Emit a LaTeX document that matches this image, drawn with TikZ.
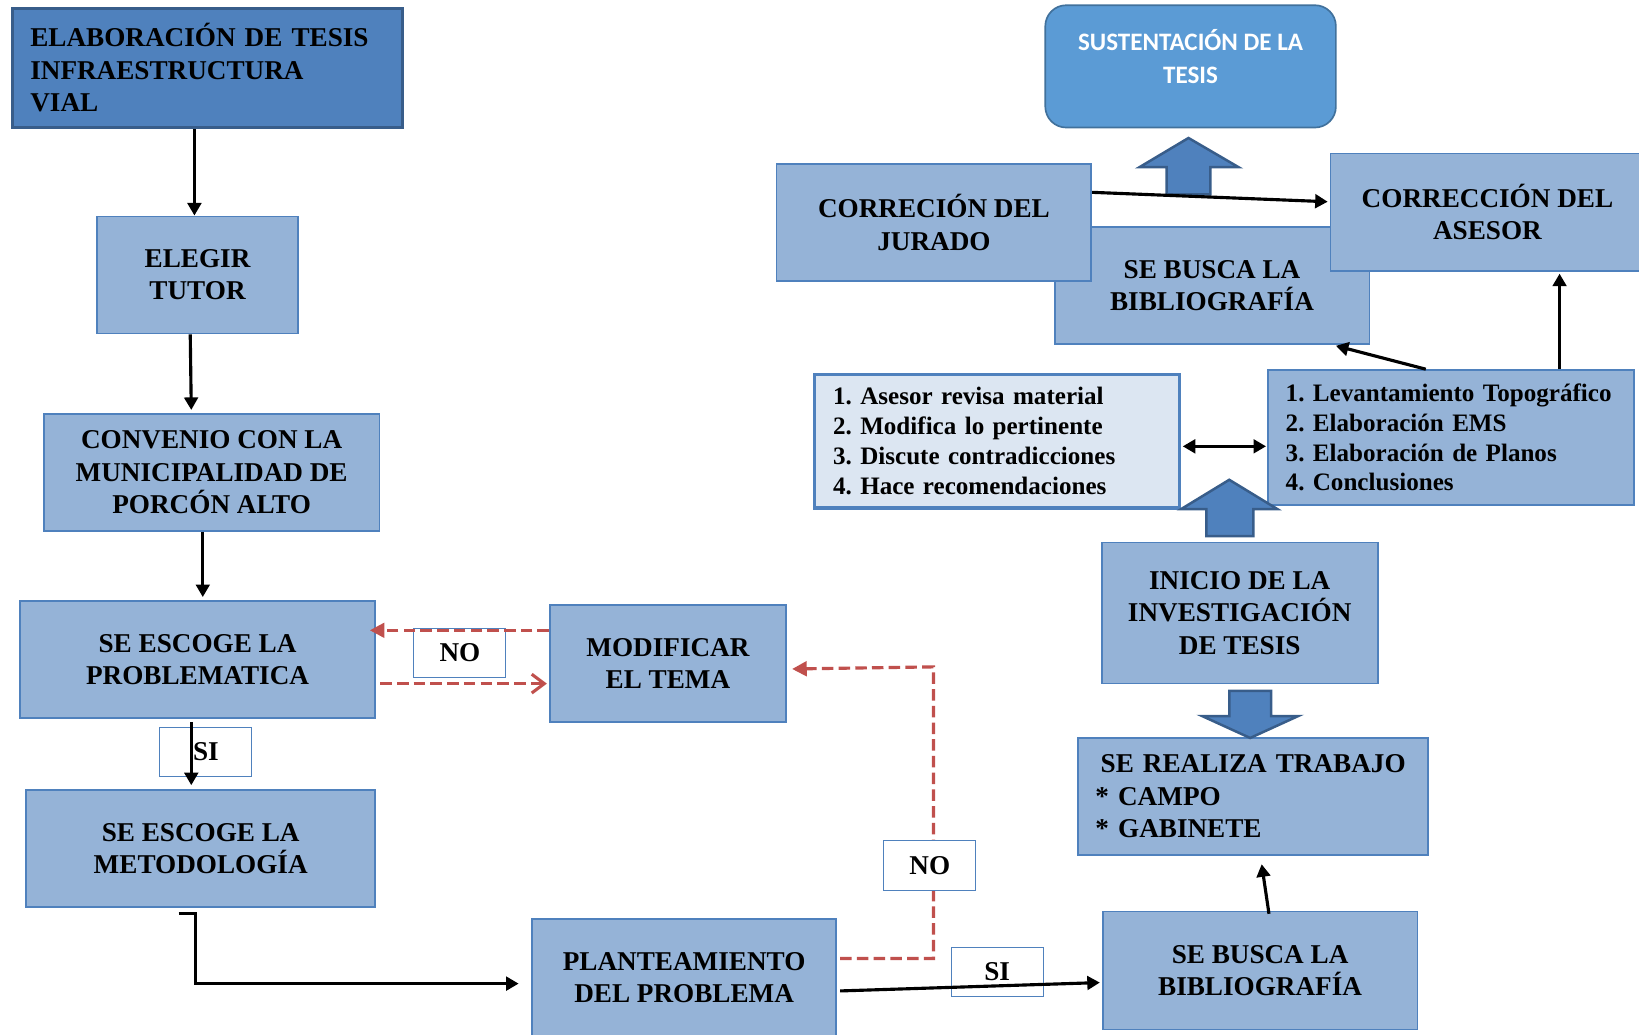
\documentclass[tikz,border=0pt]{standalone}
\usepackage{fontspec}
\setmainfont{Liberation Serif}
\newfontfamily\sustfont{Carlito}
\usetikzlibrary{arrows.meta}
\definecolor{boxblue}{HTML}{95B3D7}
\definecolor{lineblue}{HTML}{4F81BD}
\definecolor{darkblue}{HTML}{385D8A}
\definecolor{paleblue}{HTML}{DCE6F2}
\definecolor{sustblue}{HTML}{5B9BD5}
\definecolor{sustline}{HTML}{41719C}
\definecolor{nored}{HTML}{C0504D}
\frenchspacing
\begin{document}
\begin{tikzpicture}[x=0.5pt,y=-0.5pt]
\tikzstyle{every node}+=[inner sep=0pt, font=\fontsize{13}{15.5}\selectfont\bfseries]
\tikzstyle{flowbox}=[draw=lineblue, line width=0.8pt, fill=boxblue, align=center, minimum height=56pt]
\tikzstyle{listbox}=[flowbox, align=left, inner xsep=8.5pt, font=\fontsize{12}{14.25}\selectfont\bfseries]
\tikzstyle{answer}=[draw=lineblue, line width=0.5pt, fill=white, minimum width=44pt, minimum height=23.5pt]
\tikzstyle{arr}=[line width=1.5pt, -{Triangle[length=6pt,width=6.5pt]}]
\tikzstyle{redarr}=[draw=nored, line width=1.5pt, dash pattern=on 5.5pt off 2.5pt, -{Triangle[length=7pt,width=7pt]}]
\tikzstyle{bigarrow}=[fill=lineblue, draw=darkblue, line width=1.2pt]
\useasboundingbox (0,0) rectangle (1568,990);
\node[flowbox, fill=lineblue, draw=darkblue, line width=1.5pt, align=left, text width=169.5pt, inner xsep=8.5pt, minimum height=57pt] (elab) at (198.5,65) {ELABORACIÓN DE TESIS\\INFRAESTRUCTURA\\VIAL};
\node[flowbox, minimum width=96pt] (tutor) at (189,263) {ELEGIR\\TUTOR};
\node[flowbox, minimum width=160.5pt] (convenio) at (202.5,452) {CONVENIO CON LA\\MUNICIPALIDAD DE\\PORCÓN ALTO};
\node[flowbox, minimum width=170pt] (probl) at (189,631) {SE ESCOGE LA\\PROBLEMATICA};
\node[flowbox, minimum width=167pt] (metod) at (192,812) {SE ESCOGE LA\\METODOLOGÍA};
\node[flowbox, minimum width=113pt] (modif) at (639,635) {MODIFICAR\\EL TEMA};
\node[flowbox, minimum width=145.5pt] (plant) at (654.5,935) {PLANTEAMIENTO\\DEL PROBLEMA};
\node[flowbox, minimum width=150.5pt, minimum height=56.5pt] (buscab) at (1205.5,928.5) {SE BUSCA LA\\BIBLIOGRAFÍA};
\node[flowbox, align=left, text width=150.5pt, inner xsep=8.5pt] (realiza) at (1198.5,762) {\hspace*{2.5pt}SE REALIZA TRABAJO\\{*} CAMPO\\{*} GABINETE};
\node[flowbox, minimum width=132pt, minimum height=67.5pt] (inicio) at (1186,586.5) {INICIO DE LA\\INVESTIGACIÓN\\DE TESIS};
\node[listbox, fill=paleblue, line width=1.5pt, text width=156.5pt, inner xsep=9pt, minimum height=64pt] (leftlist) at (953.5,422) {1. Asesor revisa material\\2. Modifica lo pertinente\\3. Discute contradicciones\\4. Hace recomendaciones};
\node[listbox, text width=158pt, minimum height=64.5pt] (rightlist) at (1388,418.5) {1. Levantamiento Topográfico\\2. Elaboración EMS\\3. Elaboración de Planos\\4. Conclusiones};
\node[flowbox, minimum width=150.5pt] (buscat) at (1159.5,273) {SE BUSCA LA\\BIBLIOGRAFÍA};
\node[flowbox, minimum width=150.5pt] (jurado) at (893.5,213) {CORRECIÓN DEL\\JURADO};
\node[flowbox, minimum width=150pt] (asesor) at (1423,203) {CORRECCIÓN DEL\\ASESOR};
\node[draw=sustline, fill=sustblue, line width=0.8pt, rounded corners=10pt, minimum width=139pt, minimum height=58.5pt] (sust) at (1139,63.5) {};
\node[font=\sustfont\fontsize{12}{16}\selectfont\bfseries, text=white, align=center] (susttext) at (1139,54) {SUSTENTACIÓN DE LA\\TESIS};
\filldraw[bigarrow] (1116,186) -- (1116,160) -- (1090,160) -- (1137,132) -- (1185,160) -- (1158,160) -- (1158,186) -- cycle;
\filldraw[bigarrow] (1154,513) -- (1154,487) -- (1130,487) -- (1176,459) -- (1222,487) -- (1199,487) -- (1199,513) -- cycle;
\filldraw[bigarrow] (1176,661) -- (1176,685) -- (1150,685) -- (1196,706) -- (1242,685) -- (1216,685) -- (1216,661) -- cycle;
\draw[arr] ([xshift=-6.25pt]elab.south) -- ([xshift=-1.5pt]tutor.north);
\draw[arr] ([xshift=-3.5pt]tutor.south) -- ([xshift=-9.75pt,yshift=1.5pt]convenio.north);
\draw[arr] ([xshift=-4.25pt]convenio.south) -- ([xshift=2.5pt,yshift=1.5pt]probl.north);
\node[answer] (si1) at (197,719.5) {SI};
\draw[arr] ([xshift=-3pt,yshift=-1.5pt]probl.south) -- ([xshift=-4.5pt,yshift=2pt]metod.north);
\draw[arr] ([xshift=-10.5pt,yshift=-2.5pt]metod.south) -- ++(16,0) |- ([xshift=-6pt,yshift=-3pt]plant.west);
\node[answer] (no1) at (440,624.5) {NO};
\draw[redarr] ([yshift=16pt]modif.west) -- ([xshift=-3pt,yshift=14pt]probl.east);
\draw[redarr, -{Straight Barb[length=6pt,width=9pt]}] ([xshift=2pt,yshift=-11.5pt]probl.east) -- ([xshift=-1pt,yshift=-9.5pt]modif.west);
\coordinate (turn) at (893,638);
\draw[redarr] ([xshift=1.5pt,yshift=9pt]plant.east) -| (turn) -- ([xshift=2.5pt,yshift=-2.5pt]modif.east);
\node[answer] (no2) at (889.5,828) {NO};
\node[answer] (si2) at (954,929.5) {SI};
\draw[arr] ([xshift=1.5pt,yshift=-6.5pt]plant.east) -- ([xshift=-1pt,yshift=-5.75pt]buscab.west);
\draw[arr] ([xshift=4.25pt,yshift=-1.5pt]buscab.north) -- ([xshift=4.25pt,yshift=-4pt]realiza.south);
\draw[arr, {Triangle[length=6pt,width=6.5pt]}-{Triangle[length=6pt,width=6.5pt]}] ([xshift=1pt,yshift=-2.5pt]leftlist.east) -- ([xshift=-0.5pt,yshift=-4.25pt]rightlist.west);
\draw[arr] ([xshift=-12pt]rightlist.north) -- ([xshift=59.25pt,yshift=-0.5pt]buscat.south);
\draw[arr] ([xshift=52pt]rightlist.north) -- ([xshift=34.5pt,yshift=-1pt]asesor.south);
\draw[arr] ([yshift=14.5pt]jurado.east) -- ([xshift=-1pt,yshift=5pt]asesor.west);
\end{tikzpicture}
\end{document}
